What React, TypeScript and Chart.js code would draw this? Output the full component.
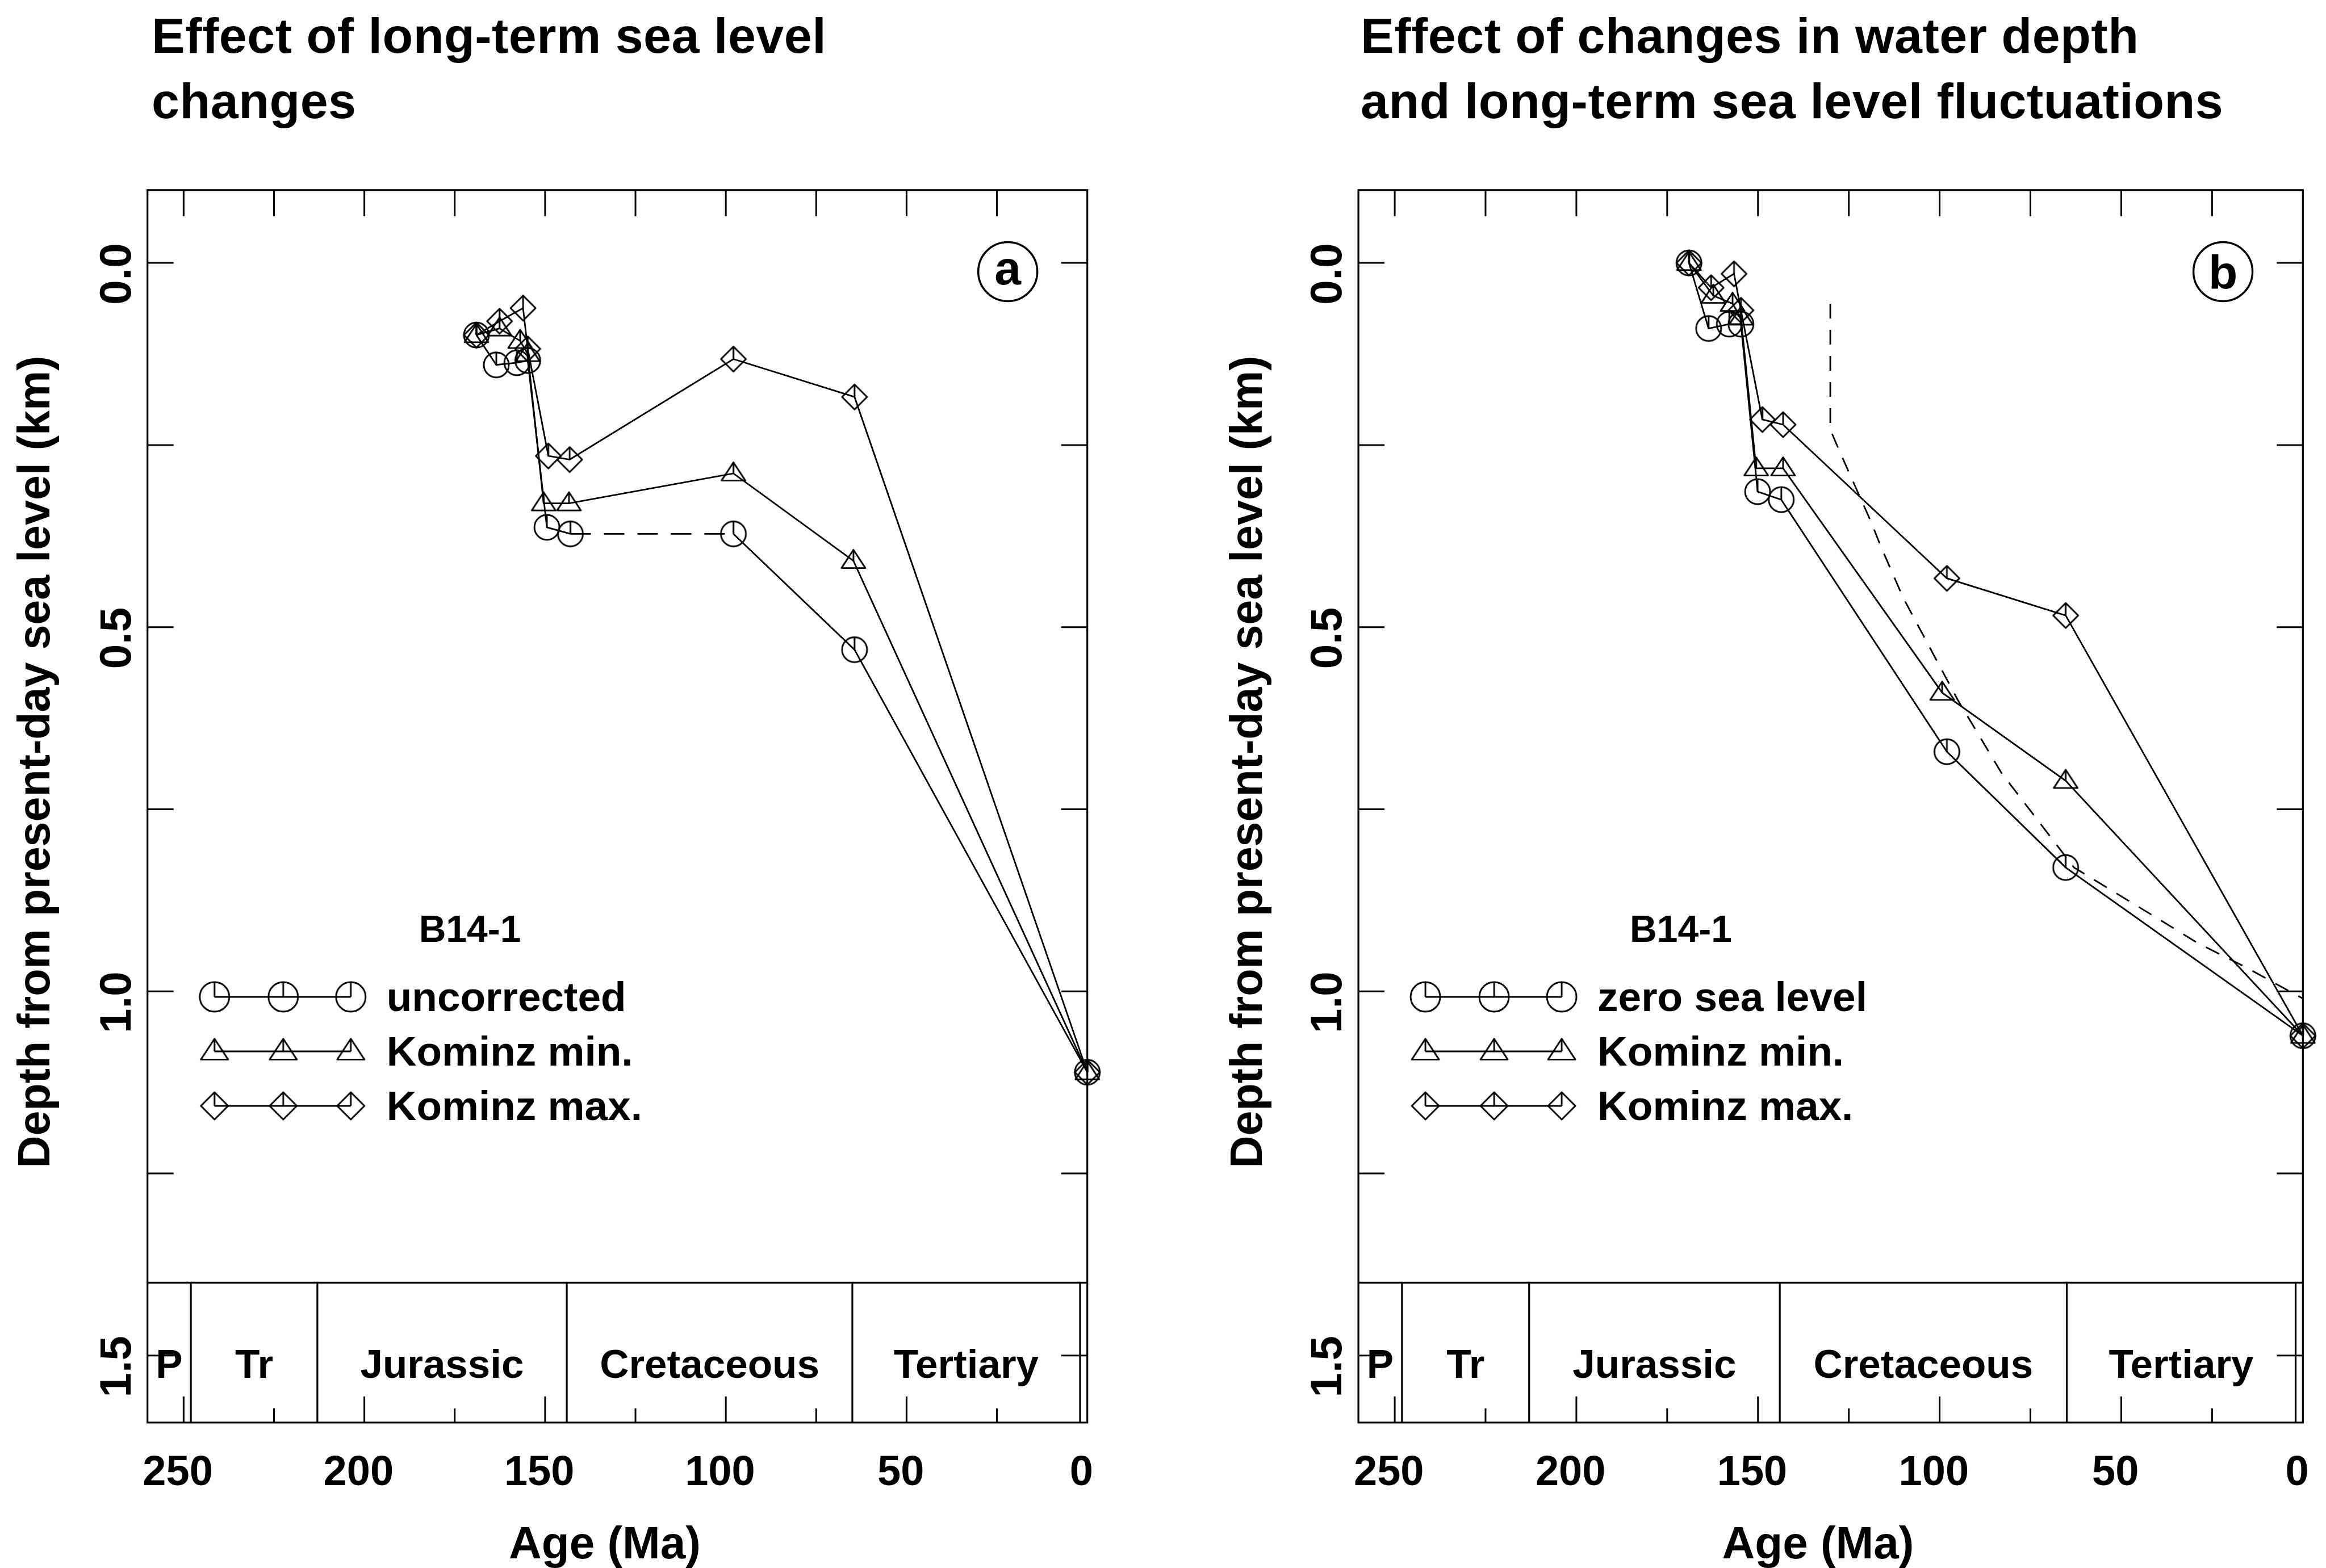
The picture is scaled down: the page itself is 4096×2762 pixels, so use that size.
import React, { useEffect, useRef } from 'react';
import { Chart, registerables } from 'chart.js';

Chart.register(...registerables);

// ---------------- data: panel (a) ----------------
const aUncorrectedAge = [169.0, 163.5, 157.8, 154.8, 149.5, 143.0, 97.9, 64.4, 0];
const aUncorrectedDepth = [0.099, 0.14, 0.137, 0.134, 0.363, 0.372, 0.372, 0.531, 1.111];
const aKominzMinAge = [169.0, 162.6, 156.9, 154.8, 150.4, 143.4, 97.9, 64.7, 0];
const aKominzMinDepth = [0.099, 0.09, 0.107, 0.125, 0.33, 0.33, 0.289, 0.409, 1.111];
const aKominzMaxAge = [169.0, 162.6, 156.1, 154.8, 149.1, 143.2, 97.9, 64.4, 0];
const aKominzMaxDepth = [0.099, 0.08, 0.062, 0.118, 0.265, 0.27, 0.132, 0.184, 1.111];
const aDashedSegmentFrom = 5; // uncorrected: dashed between 143 Ma and 98 Ma

// ---------------- data: panel (b) ----------------
const bZeroSeaAge = [169.0, 163.6, 157.9, 154.7, 150.1, 143.6, 98.0, 65.3, 0];
const bZeroSeaDepth = [0.0, 0.09, 0.084, 0.084, 0.314, 0.325, 0.671, 0.83, 1.061];
const bKominzMinAge = [169.0, 162.3, 157.0, 154.7, 150.5, 143.1, 99.3, 65.3, 0];
const bKominzMinDepth = [0.0, 0.045, 0.056, 0.075, 0.282, 0.282, 0.59, 0.711, 1.061];
const bKominzMaxAge = [169.0, 162.9, 156.6, 154.7, 148.8, 143.1, 98.0, 65.3, 0];
const bKominzMaxDepth = [0.0, 0.034, 0.015, 0.065, 0.215, 0.222, 0.433, 0.484, 1.061];
const bThermalAge = [130.1, 130.1, 128.1, 125.1, 119.0, 116.2, 110.0, 95.0, 83.0, 63.0, 35.7, 29.2, 15.7, 0];
const bThermalDepth = [0.056, 0.229, 0.252, 0.286, 0.354, 0.389, 0.46, 0.6, 0.7, 0.83, 0.913, 0.933, 0.967, 1.01];

// ---------------- axes / labels ----------------
const xTickValues = [250, 200, 150, 100, 50, 0];
const yTickValues = [0, 0.5, 1.0, 1.5];
const ageTickMarks = [250, 225, 200, 175, 150, 125, 100, 75, 50, 25];
const depthTickMarks = [0, 0.25, 0.5, 0.75, 1.0, 1.25, 1.5];
const periodNames = ['P', 'Tr', 'Jurassic', 'Cretaceous', 'Tertiary'];
const periodOlderEdge = [260, 248, 213, 144, 65];
const periodYoungerEdge = [248, 213, 144, 65, 2];
const periodBoundaries = [248, 213, 144, 65, 2];
const timescaleTopDepth = 1.4;
const periodLabelDepth = 1.515;
const panelLetterAge = 22;
const panelLetterDepth = 0.012;
const ageMin = 0;
const ageMax = 260;
const depthMin = -0.1;
const depthMax = 1.592;

const FONT = '"Liberation Sans", Arial, Helvetica, sans-serif';
const OUT_W = 4096;
const OUT_H = 2762;
const AREA_TOP = 334.8;
const AREA_BOTTOM = 2505.8;
const Y_AXIS_W = 120;
const X_AXIS_H = 249.2;
const BOTTOM_PAD = OUT_H - AREA_BOTTOM - X_AXIS_H;
const TICK = 46;
const TICK_SHORT = 25;
const LINE_W = 2.8;
const MARK_W = 2.9;

type Shape = 'circle' | 'triangle' | 'diamond';
type Series = { label: string; ages: number[]; depths: number[]; marker: Shape; dashFrom?: number };
type Panel = {
  canvasLeft: number;
  canvasWidth: number;
  areaLeft: number;
  areaRight: number;
  title: string[];
  titleX: number;
  yTitleX: number;
  letter: string;
  letterBaseline: number;
  series: Series[];
  thermal?: { ages: number[]; depths: number[] };
};

const panelA: Panel = {
  canvasLeft: 0,
  canvasWidth: 2048,
  areaLeft: 259.7,
  areaRight: 1914.7,
  title: ['Effect of long-term sea level', 'changes'],
  titleX: 267,
  yTitleX: 65,
  letter: 'a',
  letterBaseline: 22,
  series: [
    { label: 'uncorrected', ages: aUncorrectedAge, depths: aUncorrectedDepth, marker: 'circle', dashFrom: aDashedSegmentFrom },
    { label: 'Kominz min.', ages: aKominzMinAge, depths: aKominzMinDepth, marker: 'triangle' },
    { label: 'Kominz max.', ages: aKominzMaxAge, depths: aKominzMaxDepth, marker: 'diamond' },
  ],
};

const panelB: Panel = {
  canvasLeft: 2048,
  canvasWidth: 2200,
  areaLeft: 344.1,
  areaRight: 2007.3,
  title: ['Effect of changes in water depth', 'and long-term sea level fluctuations'],
  titleX: 348,
  yTitleX: 152,
  letter: 'b',
  letterBaseline: 30,
  series: [
    { label: 'zero sea level', ages: bZeroSeaAge, depths: bZeroSeaDepth, marker: 'circle' },
    { label: 'Kominz min.', ages: bKominzMinAge, depths: bKominzMinDepth, marker: 'triangle' },
    { label: 'Kominz max.', ages: bKominzMaxAge, depths: bKominzMaxDepth, marker: 'diamond' },
  ],
  thermal: { ages: bThermalAge, depths: bThermalDepth },
};

function makeMarker(shape: Shape, size: number, lw: number): HTMLCanvasElement {
  const pad = lw + 3;
  const dim = Math.ceil(2 * (size + pad));
  const c = document.createElement('canvas');
  c.width = dim;
  c.height = dim;
  const g = c.getContext('2d') as CanvasRenderingContext2D;
  const cx = dim / 2;
  const cy = dim / 2;
  g.strokeStyle = '#000';
  g.lineWidth = lw;
  g.lineJoin = 'round';
  g.beginPath();
  let topY = cy - size;
  if (shape === 'circle') {
    g.arc(cx, cy, size, 0, Math.PI * 2);
  } else if (shape === 'diamond') {
    g.moveTo(cx, cy - size);
    g.lineTo(cx + size, cy);
    g.lineTo(cx, cy + size);
    g.lineTo(cx - size, cy);
    g.closePath();
  } else {
    const up = size * 0.93;
    const down = size * 0.6;
    g.moveTo(cx, cy - up);
    g.lineTo(cx + size, cy + down);
    g.lineTo(cx - size, cy + down);
    g.closePath();
    topY = cy - up;
  }
  g.stroke();
  g.beginPath();
  g.moveTo(cx, topY);
  g.lineTo(cx, cy);
  g.stroke();
  return c;
}

function buildChart(canvas: HTMLCanvasElement, p: Panel): Chart {
  const dataMarkers: Record<Shape, HTMLCanvasElement> = {
    circle: makeMarker('circle', 22, MARK_W),
    triangle: makeMarker('triangle', 21, MARK_W),
    diamond: makeMarker('diamond', 22, MARK_W),
  };
  const legendMarkers: Record<Shape, HTMLCanvasElement> = {
    circle: makeMarker('circle', 26, MARK_W),
    triangle: makeMarker('triangle', 24, MARK_W),
    diamond: makeMarker('diamond', 24, MARK_W),
  };

  const datasets: any[] = p.series.map((s) => {
    const ds: any = {
      label: s.label,
      data: s.ages.map((a, i) => ({ x: a, y: s.depths[i] })),
      borderColor: '#000',
      borderWidth: LINE_W,
      backgroundColor: 'transparent',
      pointStyle: dataMarkers[s.marker],
      pointRadius: 22,
      pointHoverRadius: 22,
      tension: 0,
      fill: false,
      clip: false,
    };
    if (s.dashFrom !== undefined) {
      const from = s.dashFrom;
      ds.segment = { borderDash: (ctx: any) => (ctx.p0DataIndex === from ? [36, 23] : undefined) };
    }
    return ds;
  });
  if (p.thermal) {
    const t = p.thermal;
    datasets.push({
      label: 'thermal',
      data: t.ages.map((a, i) => ({ x: a, y: t.depths[i] })),
      borderColor: '#000',
      borderWidth: LINE_W,
      borderDash: [26, 20],
      pointRadius: 0,
      tension: 0,
      fill: false,
      clip: false,
    });
  }

  const decor = {
    id: 'decor',
    beforeDatasetsDraw(chart: any) {
      const { ctx, chartArea: ca, scales } = chart;
      const x = scales.x;
      const y = scales.y;
      ctx.save();
      ctx.strokeStyle = '#000';
      ctx.fillStyle = '#000';
      ctx.lineWidth = 3.2;
      ctx.strokeRect(ca.left, ca.top, ca.right - ca.left, ca.bottom - ca.top);
      ctx.lineWidth = 3;
      ctx.beginPath();
      for (const v of ageTickMarks) {
        const px = x.getPixelForValue(v);
        ctx.moveTo(px, ca.top);
        ctx.lineTo(px, ca.top + TICK);
        const len = v % 50 === 0 ? TICK : TICK_SHORT;
        ctx.moveTo(px, ca.bottom);
        ctx.lineTo(px, ca.bottom - len);
      }
      for (const d of depthTickMarks) {
        const py = y.getPixelForValue(d);
        ctx.moveTo(ca.left, py);
        ctx.lineTo(ca.left + TICK, py);
        ctx.moveTo(ca.right, py);
        ctx.lineTo(ca.right - TICK, py);
      }
      ctx.stroke();
      // geologic timescale box
      const boxTop = y.getPixelForValue(timescaleTopDepth);
      ctx.lineWidth = 3.2;
      ctx.beginPath();
      ctx.moveTo(ca.left, boxTop);
      ctx.lineTo(ca.right, boxTop);
      for (const b of periodBoundaries) {
        const px = x.getPixelForValue(b);
        ctx.moveTo(px, boxTop);
        ctx.lineTo(px, ca.bottom);
      }
      ctx.stroke();
      ctx.font = `bold 71px ${FONT}`;
      ctx.textAlign = 'center';
      ctx.textBaseline = 'middle';
      const ly = y.getPixelForValue(periodLabelDepth);
      periodNames.forEach((name, i) => {
        const cx = (x.getPixelForValue(periodOlderEdge[i]) + x.getPixelForValue(periodYoungerEdge[i])) / 2;
        ctx.fillText(name, cx, ly);
      });
      ctx.restore();
    },
    afterDraw(chart: any) {
      const { ctx, chartArea: ca, scales } = chart;
      const x = scales.x;
      const y = scales.y;
      ctx.save();
      ctx.fillStyle = '#000';
      ctx.strokeStyle = '#000';
      // panel title
      ctx.font = `bold 88px ${FONT}`;
      ctx.textAlign = 'left';
      ctx.textBaseline = 'alphabetic';
      (ctx as any).letterSpacing = '0.5px';
      ctx.fillText(p.title[0], p.titleX, 93);
      ctx.fillText(p.title[1], p.titleX, 208);
      (ctx as any).letterSpacing = '0px';
      // y-axis title
      ctx.save();
      ctx.translate(p.yTitleX, 1342);
      ctx.rotate(-Math.PI / 2);
      ctx.font = `bold 79px ${FONT}`;
      ctx.textAlign = 'center';
      ctx.textBaseline = 'middle';
      ctx.fillText('Depth from present-day sea level (km)', 0, 0);
      ctx.restore();
      // circled panel letter
      const lx = x.getPixelForValue(panelLetterAge);
      const lyy = y.getPixelForValue(panelLetterDepth);
      ctx.lineWidth = 3.5;
      ctx.beginPath();
      ctx.arc(lx, lyy, 52, 0, Math.PI * 2);
      ctx.stroke();
      ctx.font = `bold 84px ${FONT}`;
      ctx.textAlign = 'center';
      ctx.textBaseline = 'alphabetic';
      ctx.fillText(p.letter, lx, lyy + p.letterBaseline);
      // legend
      const rows = [1756, 1852, 1948];
      const mx = [118, 239, 358].map((o) => ca.left + o);
      ctx.textAlign = 'left';
      ctx.font = `bold 66px ${FONT}`;
      ctx.fillText('B14-1', ca.left + 478, 1659);
      p.series.forEach((s, i) => {
        ctx.lineWidth = LINE_W;
        ctx.beginPath();
        ctx.moveTo(mx[0], rows[i]);
        ctx.lineTo(mx[2], rows[i]);
        ctx.stroke();
        const img = legendMarkers[s.marker];
        mx.forEach((xx) => ctx.drawImage(img, xx - img.width / 2, rows[i] - img.height / 2));
        ctx.font = `bold 73px ${FONT}`;
        ctx.fillText(s.label, ca.left + 421, rows[i] + 25);
      });
      ctx.restore();
    },
  };

  return new Chart(canvas, {
    type: 'line',
    data: { datasets },
    plugins: [decor],
    options: {
      animation: false,
      responsive: false,
      devicePixelRatio: 1,
      events: [],
      layout: {
        padding: {
          left: p.areaLeft - Y_AXIS_W,
          right: p.canvasWidth - p.areaRight,
          top: AREA_TOP,
          bottom: BOTTOM_PAD,
        },
      },
      plugins: { legend: { display: false }, tooltip: { enabled: false }, title: { display: false } },
      scales: {
        x: {
          type: 'linear',
          position: 'bottom',
          reverse: true,
          min: ageMin,
          max: ageMax,
          afterBuildTicks: (s: any) => {
            s.ticks = xTickValues.map((v) => ({ value: v }));
          },
          afterFit: (s: any) => {
            s.height = X_AXIS_H;
          },
          grid: { display: false, drawTicks: false },
          border: { display: false },
          ticks: {
            autoSkip: false,
            minRotation: 0,
            maxRotation: 0,
            padding: 45,
            color: '#000',
            font: { family: FONT, size: 74, weight: 'bold', lineHeight: 1.2 },
            callback: (v: any) => `${v} `,
          },
          title: {
            display: true,
            text: 'Age (Ma)  ',
            color: '#000',
            font: { family: FONT, size: 80, weight: 'bold', lineHeight: 0.8 },
            padding: { top: 0, bottom: 0 },
          },
        },
        y: {
          type: 'linear',
          position: 'left',
          reverse: true,
          min: depthMin,
          max: depthMax,
          afterBuildTicks: (s: any) => {
            s.ticks = yTickValues.map((v) => ({ value: v }));
          },
          afterFit: (s: any) => {
            s.width = Y_AXIS_W;
          },
          grid: { display: false, drawTicks: false },
          border: { display: false },
          ticks: {
            autoSkip: false,
            minRotation: 90,
            maxRotation: 90,
            crossAlign: 'center',
            padding: -22,
            color: '#000',
            font: { family: FONT, size: 78, weight: 'bold', lineHeight: 1.2 },
            callback: (v: any) => `${Number(v).toFixed(1)}\u2002`,
          },
        },
      },
    } as any,
  });
}

function PanelChart({ panel }: { panel: Panel }) {
  const ref = useRef<HTMLCanvasElement | null>(null);
  useEffect(() => {
    if (!ref.current) return;
    const chart = buildChart(ref.current, panel);
    return () => chart.destroy();
  }, [panel]);
  return (
    <canvas
      ref={ref}
      width={panel.canvasWidth}
      height={OUT_H}
      style={{
        position: 'absolute',
        left: panel.canvasLeft,
        top: 0,
        width: panel.canvasWidth,
        height: OUT_H,
        display: 'block',
      }}
    />
  );
}

export default function App() {
  return (
    <div
      style={{
        position: 'absolute',
        left: 0,
        top: 0,
        width: OUT_W,
        height: OUT_H,
        background: '#fff',
        overflow: 'hidden',
      }}
    >
      <PanelChart panel={panelA} />
      <PanelChart panel={panelB} />
    </div>
  );
}
